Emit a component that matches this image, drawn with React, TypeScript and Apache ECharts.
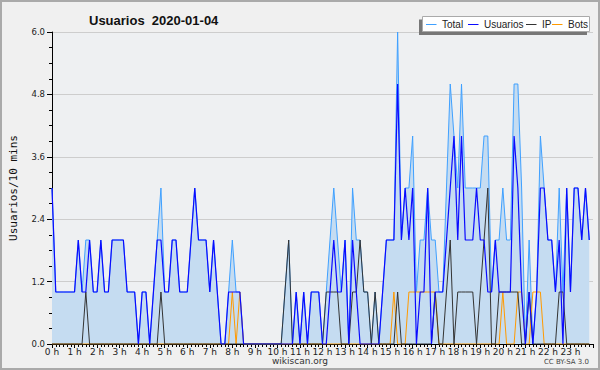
import { useEffect, useRef } from "react";
import * as echarts from "echarts";

const TITLE = "Usuarios  2020-01-04";
const Y_NAME = "Usuarios/10 mins";
const STEP_MIN = 10;
const SERIES_NAMES = ["Total", "Usuarios", "IP", "Bots"];

// one value per 10 minutes, 144 values (00:00 .. 23:50)
const total = [
  3, 1, 1, 1, 1, 1, 1, 2, 1, 2,
  2, 1, 1, 2, 1, 1, 2, 2, 2, 2,
  1, 1, 1, 0, 1, 1, 0, 1, 2, 3,
  1, 1, 2, 2, 1, 1, 1, 2, 3, 2,
  2, 2, 1, 2, 1, 0, 0, 1, 2, 1,
  1, 0, 0, 0, 0, 0, 0, 0, 0, 0,
  0, 0, 1, 2, 0, 1, 0, 1, 0, 1,
  1, 1, 0, 1, 2, 3, 2, 1, 2, 0,
  3, 2, 2, 1, 1, 0, 1, 0, 1, 2,
  2, 2, 6, 2, 3, 3, 4, 1, 2, 2,
  3, 2, 2, 1, 1, 3, 5, 4, 3, 5,
  3, 3, 3, 3, 3, 4, 4, 1, 2, 2,
  3, 2, 2, 5, 5, 3, 0, 2, 0, 1,
  4, 3, 2, 2, 1, 3, 1, 3, 1, 3,
  3, 2, 3, 2,
];
const usuarios = [
  3, 1, 1, 1, 1, 1, 1, 2, 1, 1,
  2, 1, 1, 2, 1, 1, 2, 2, 2, 2,
  1, 1, 1, 0, 1, 1, 0, 1, 2, 2,
  1, 1, 2, 2, 1, 1, 1, 2, 3, 2,
  2, 2, 1, 2, 1, 0, 0, 1, 1, 1,
  1, 0, 0, 0, 0, 0, 0, 0, 0, 0,
  0, 0, 0, 0, 0, 1, 0, 1, 0, 1,
  1, 1, 0, 0, 1, 2, 1, 1, 2, 0,
  2, 1, 0, 0, 0, 0, 0, 0, 1, 2,
  2, 2, 5, 2, 3, 2, 3, 0, 1, 1,
  3, 0, 1, 1, 1, 2, 3, 4, 2, 4,
  2, 2, 2, 3, 2, 2, 1, 1, 2, 1,
  1, 1, 1, 4, 3, 1, 0, 1, 0, 1,
  3, 3, 2, 2, 1, 2, 0, 3, 1, 3,
  3, 2, 3, 2,
];
const ip = [
  0, 0, 0, 0, 0, 0, 0, 0, 0, 1,
  0, 0, 0, 0, 0, 0, 0, 0, 0, 0,
  0, 0, 0, 0, 0, 0, 0, 0, 0, 1,
  0, 0, 0, 0, 0, 0, 0, 0, 0, 0,
  0, 0, 0, 0, 0, 0, 0, 0, 0, 0,
  0, 0, 0, 0, 0, 0, 0, 0, 0, 0,
  0, 0, 1, 2, 0, 0, 0, 0, 0, 0,
  0, 0, 0, 1, 1, 1, 1, 0, 0, 0,
  1, 1, 2, 1, 1, 0, 1, 0, 0, 0,
  0, 0, 1, 0, 0, 0, 0, 0, 0, 0,
  0, 0, 1, 0, 0, 1, 2, 0, 1, 1,
  1, 1, 1, 0, 1, 2, 3, 0, 0, 1,
  1, 1, 1, 1, 1, 0, 0, 1, 0, 0,
  0, 0, 0, 0, 0, 1, 1, 0, 0, 0,
  0, 0, 0, 0,
];
const bots = [
  0, 0, 0, 0, 0, 0, 0, 0, 0, 0,
  0, 0, 0, 0, 0, 0, 0, 0, 0, 0,
  0, 0, 0, 0, 0, 0, 0, 0, 0, 0,
  0, 0, 0, 0, 0, 0, 0, 0, 0, 0,
  0, 0, 0, 0, 0, 0, 0, 0, 1, 0,
  1, 0, 0, 0, 0, 0, 0, 0, 0, 0,
  0, 0, 0, 0, 0, 0, 0, 0, 0, 0,
  0, 0, 0, 0, 0, 0, 0, 0, 0, 0,
  0, 0, 0, 0, 0, 0, 0, 0, 0, 0,
  0, 1, 0, 0, 0, 1, 1, 1, 1, 1,
  1, 1, 1, 0, 0, 0, 0, 0, 0, 0,
  0, 0, 0, 0, 0, 0, 0, 0, 0, 0,
  1, 0, 0, 0, 1, 1, 0, 0, 1, 1,
  1, 0, 0, 0, 0, 0, 0, 0, 0, 0,
  0, 0, 0, 0,
];

const COLORS: Record<string, string> = {
  Total: "#3fa0ff",
  Usuarios: "#0a0aff",
  IP: "#333333",
  Bots: "#ff9a00",
};

// legend layout (x of each line sample)
const LEGEND_X = [426, 468, 526, 552];

export default function App() {
  const ref = useRef<HTMLDivElement>(null);
  useEffect(() => {
    const chart = echarts.init(ref.current!, null, { renderer: "svg" });
    const pts = (a: number[]) => a.map((v, i) => [i * STEP_MIN, v]);
    const lineSeries = (name: string, data: number[], width: number, z: number, area?: string) => ({
      name,
      type: "line",
      data: pts(data),
      showSymbol: false,
      symbol: "none",
      z,
      lineStyle: { color: COLORS[name], width },
      itemStyle: { color: COLORS[name] },
      areaStyle: area ? { color: area, opacity: 1 } : undefined,
      emphasis: { disabled: true },
    });
    const legendItems: any[] = [];
    SERIES_NAMES.forEach((n, k) => {
      const x0 = LEGEND_X[k];
      legendItems.push({
        type: "line", z: 7, silent: true,
        shape: { x1: x0, y1: 24.5, x2: x0 + 10.5, y2: 24.5 },
        style: { stroke: COLORS[n], lineWidth: 1 },
      });
      legendItems.push({
        type: "text", z: 7, silent: true, x: x0 + 16, y: 24.7,
        style: { text: n, fontFamily: "Liberation Sans", fontSize: 10, fill: "#222", textVerticalAlign: "middle" },
      });
    });
    chart.setOption({
      animation: false,
      backgroundColor: "#f0f0f0",
      title: {
        text: TITLE,
        left: 84,
        top: 9,
        textStyle: { fontFamily: "Liberation Sans", fontWeight: "bold", fontSize: 13, color: "#111" },
      },
      graphic: [
        { type: "rect", z: 5, silent: true, shape: { x: 419, y: 19.5, width: 168, height: 15.5 }, style: { fill: "#777777" } },
        { type: "rect", z: 6, silent: true, shape: { x: 422.5, y: 16.5, width: 167, height: 15 }, style: { fill: "#ffffff", stroke: "#aaaaaa", lineWidth: 1 } },
        ...legendItems,
        { type: "text", z: 6, silent: true, x: 300, y: 361, style: { text: "wikiscan.org", fontFamily: "DejaVu Sans", fontSize: 9, fill: "#333", textAlign: "center", textVerticalAlign: "middle" } },
        { type: "text", z: 6, silent: true, x: 589, y: 362, style: { text: "CC BY-SA 3.0", fontFamily: "DejaVu Sans", fontSize: 7, fill: "#444", textAlign: "right", textVerticalAlign: "middle" } },
        { type: "rect", z: 20, silent: true, shape: { x: 1, y: 1, width: 598, height: 368 }, style: { fill: "none", stroke: "#aaaaaa", lineWidth: 2 } },
      ],
      grid: { left: 46, right: 7, top: 32, bottom: 26, show: true, backgroundColor: "#eef0f2", borderWidth: 0 },
      xAxis: {
        type: "value",
        min: 0,
        max: 1440,
        interval: 60,
        axisLine: { show: true, onZero: false, lineStyle: { color: "#000", width: 1 } },
        axisTick: { show: true, length: 4, lineStyle: { color: "#000" } },
        minorTick: { show: true, splitNumber: 6, length: 3, lineStyle: { color: "#000" } },
        splitLine: { show: false },
        axisLabel: {
          formatter: (v: number) => (v >= 1440 ? "" : `${v / 60} h`),
          fontFamily: "DejaVu Sans",
          fontSize: 9,
          color: "#222",
          margin: 3,
        },
      },
      yAxis: {
        type: "value",
        min: 0,
        max: 6,
        interval: 1.2,
        name: Y_NAME,
        nameLocation: "middle",
        nameGap: 33,
        nameTextStyle: { fontFamily: "DejaVu Sans Mono", fontSize: 11, color: "#111" },
        axisLine: { show: true, lineStyle: { color: "#000", width: 1 } },
        axisTick: { show: true, length: 5, lineStyle: { color: "#000" } },
        minorTick: { show: true, splitNumber: 4, length: 3, lineStyle: { color: "#000" } },
        splitLine: { show: true, lineStyle: { color: "#cdcdcd", width: 1 } },
        axisLabel: {
          formatter: (v: number) => v.toFixed(1),
          fontFamily: "DejaVu Sans",
          fontSize: 8.5,
          color: "#222",
          margin: 7,
        },
      },
      series: [
        lineSeries("Total", total, 1, 2, "#c5dcf1"),
        lineSeries("Bots", bots, 1, 3),
        lineSeries("IP", ip, 1, 4),
        lineSeries("Usuarios", usuarios, 1.2, 5),
      ],
    });
    return () => chart.dispose();
  }, []);
  return <div ref={ref} style={{ position: "fixed", left: 0, top: 0, width: 600, height: 370 }} />;
}
